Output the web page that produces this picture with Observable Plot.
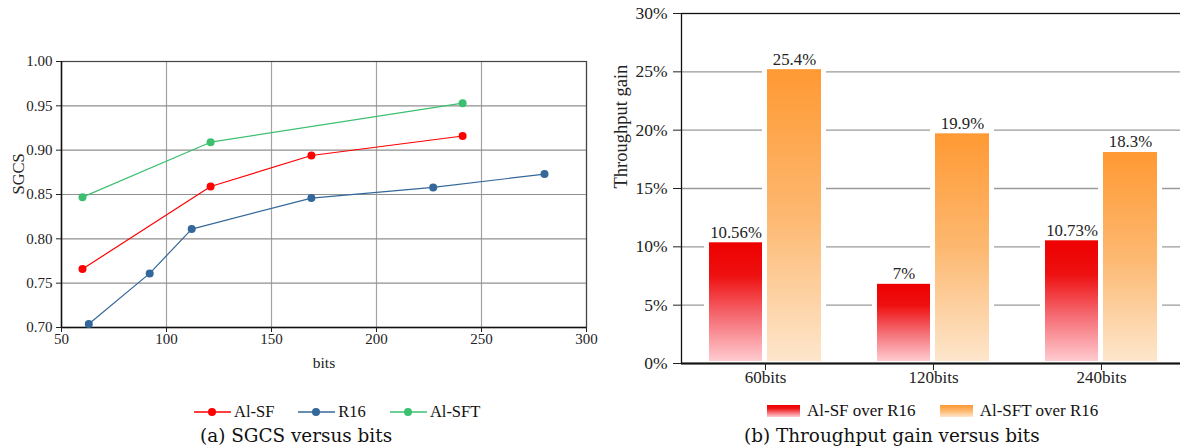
<!DOCTYPE html>
<html><head><meta charset="utf-8">
<script src="https://cdn.jsdelivr.net/npm/d3@7"></script>
<script src="https://cdn.jsdelivr.net/npm/@observablehq/plot@0.6"></script>
<style>
body{margin:0;background:#fff;overflow:hidden;}
#root{position:relative;width:1180px;height:448px;overflow:hidden;font-family:"Liberation Serif","Times New Roman",Times,serif;color:#111;}
#root svg text{font-family:"Liberation Serif","Times New Roman",Times,serif;}
.abs{position:absolute;}
.leg{display:flex;align-items:center;white-space:nowrap;}
.cap{font-family:"DejaVu Serif",serif;font-size:18.4px;white-space:nowrap;}
</style></head><body>
<svg width="0" height="0" style="position:absolute">
<defs>
<linearGradient id="gRed" x1="0" y1="0" x2="0" y2="1">
<stop offset="0" stop-color="#ee0000"/><stop offset="0.28" stop-color="#ee1010"/><stop offset="0.62" stop-color="#f56a72"/><stop offset="1" stop-color="#ffcbd0"/>
</linearGradient>
<linearGradient id="gOrange" x1="0" y1="0" x2="0" y2="1">
<stop offset="0" stop-color="#ff9933"/><stop offset="0.5" stop-color="#fdb870"/><stop offset="1" stop-color="#fde6cc"/>
</linearGradient>
</defs></svg>
<div id="root"></div>
<script>
// ---- (a) SGCS versus bits ----
const seriesNames = ["Al-SF", "R16", "Al-SFT"];
const seriesColors = ["#ff0000", "#34679a", "#3cc070"];
const alSfBits = [60, 121, 169, 241];
const alSfSgcs = [0.766, 0.859, 0.894, 0.916];
const r16Bits = [63, 92, 112, 169, 227, 280];
const r16Sgcs = [0.704, 0.761, 0.811, 0.846, 0.858, 0.873];
const alSftBits = [60, 121, 241];
const alSftSgcs = [0.847, 0.909, 0.953];
const xTicksA = [50, 100, 150, 200, 250, 300];
const yTicksA = [0.70, 0.75, 0.80, 0.85, 0.90, 0.95, 1.00];
const captionA = "(a) SGCS versus bits";

// ---- (b) Throughput gain versus bits ----
const groups = ["60bits", "120bits", "240bits"];
const barSeries = ["Al-SF over R16", "Al-SFT over R16"];
const barFills = ["url(#gRed)", "url(#gOrange)"];
const gainAlSf = [10.56, 7, 10.73];
const gainAlSft = [25.4, 19.9, 18.3];
const gainLabelsAlSf = ["10.56%", "7%", "10.73%"];
const gainLabelsAlSft = ["25.4%", "19.9%", "18.3%"];
const yTicksB = [0, 5, 10, 15, 20, 25, 30];
const captionB = "(b) Throughput gain versus bits";

const FONT = '"Liberation Serif", "Times New Roman", Times, serif';
const root = document.getElementById("root");

const lineData = [];
[[alSfBits, alSfSgcs], [r16Bits, r16Sgcs], [alSftBits, alSftSgcs]].forEach(([b, s], i) =>
  b.forEach((x, j) => lineData.push({series: seriesNames[i], bits: x, sgcs: s[j]})));

const chartA = Plot.plot({
  width: 600, height: 390,
  marginLeft: 61, marginRight: 14, marginTop: 61, marginBottom: 63,
  style: {fontFamily: FONT, fontSize: "15px", color: "#222", background: "transparent"},
  x: {domain: [50, 300]},
  y: {domain: [0.70, 1.00]},
  color: {domain: seriesNames, range: seriesColors},
  marks: [
    Plot.gridX(xTicksA, {stroke: "#a3a3a3", strokeOpacity: 1, strokeWidth: 1.2}),
    Plot.gridY(yTicksA, {stroke: "#8f8f8f", strokeOpacity: 1, strokeWidth: 1.1}),
    Plot.frame({stroke: "#444", strokeWidth: 1.2}),
    Plot.ruleX([50], {stroke: "#111", strokeWidth: 1.4}),
    Plot.ruleY([0.70], {stroke: "#111", strokeWidth: 1.4}),
    Plot.axisX(xTicksA, {tickSize: 5, tickFormat: () => "", label: null}),
    Plot.axisY(yTicksA, {tickSize: 5, tickFormat: () => "", label: null}),
    Plot.text(xTicksA, {x: d => d, text: d => String(d), frameAnchor: "bottom", dy: 16, fontSize: 15, fill: "#222"}),
    Plot.text(yTicksA, {y: d => d, text: d3.format(".2f"), frameAnchor: "left", textAnchor: "end", dx: -9, fontSize: 15, fill: "#222"}),
    Plot.line(lineData, {x: "bits", y: "sgcs", z: "series", stroke: "series", strokeWidth: 1.2}),
    Plot.dot(lineData, {x: "bits", y: "sgcs", fill: "series", r: 4}),
    Plot.text(["SGCS"], {text: d => d, frameAnchor: "left", dx: -43, rotate: -90, fontSize: 16.5}),
    Plot.text(["bits"], {text: d => d, frameAnchor: "bottom", dy: 40, fontSize: 15.5})
  ]
});
chartA.classList.add("abs");
chartA.style.left = "0px"; chartA.style.top = "0px";
root.appendChild(chartA);

const barData = groups.flatMap((g, i) => [
  {group: g, series: barSeries[0], value: gainAlSf[i], label: gainLabelsAlSf[i]},
  {group: g, series: barSeries[1], value: gainAlSft[i], label: gainLabelsAlSft[i]}
]);
const sfData = barData.filter(d => d.series === barSeries[0]);
const sftData = barData.filter(d => d.series === barSeries[1]);

const chartB = Plot.plot({
  width: 590, height: 390,
  marginLeft: 81, marginRight: 5, marginTop: 13, marginBottom: 27,
  style: {fontFamily: FONT, fontSize: "17px", color: "#222", background: "transparent"},
  x: {domain: groups, paddingInner: 1/3, paddingOuter: 1/6},
  y: {domain: [0, 30]},
  marks: [
    Plot.gridY(yTicksB.slice(1, -1), {stroke: "#9a9a9a", strokeOpacity: 1, strokeWidth: 1.3}),
    Plot.barY(sfData, {x: "group", y: "value", fill: "white", insetLeft: -5, insetRight: 54, insetTop: -3}),
    Plot.barY(sftData, {x: "group", y: "value", fill: "white", insetLeft: 53, insetRight: -5, insetTop: -3}),
    Plot.barY(sfData, {x: "group", y: "value", fill: barFills[0], insetLeft: 0, insetRight: 59, insetTop: 2.5, insetBottom: 2}),
    Plot.barY(sftData, {x: "group", y: "value", fill: barFills[1], insetLeft: 58, insetRight: 0, insetTop: 2.5, insetBottom: 2}),
    Plot.text(sfData, {x: "group", y: "value", text: "label", dx: -29.5, dy: -8, fontSize: 16.8}),
    Plot.text(sftData, {x: "group", y: "value", text: "label", dx: 29, dy: -8, fontSize: 16.8}),
    Plot.frame({stroke: "#111", strokeWidth: 1.3}),
    Plot.ruleY([0], {stroke: "#111", strokeWidth: 2}),
    Plot.axisY(yTicksB, {tickSize: 8, tickFormat: () => "", label: null}),
    Plot.axisX({tickSize: 7, tickFormat: () => "", label: null}),
    Plot.text(yTicksB, {y: d => d, text: d => d + "%", frameAnchor: "left", textAnchor: "end", dx: -14, fontSize: 17.5, fill: "#222"}),
    Plot.text(groups, {x: d => d, text: d => d, frameAnchor: "bottom", dy: 19, fontSize: 17, fill: "#222"}),
    Plot.text(["Throughput gain"], {text: d => d, frameAnchor: "left", dx: -60, rotate: -90, fontSize: 18.5})
  ]
});
chartB.classList.add("abs");
chartB.style.left = "600px"; chartB.style.top = "0px";
root.appendChild(chartB);

// ---- legends ----
const legA = document.createElement("div");
legA.className = "abs leg";
legA.style.left = "194px"; legA.style.top = "402px"; legA.style.fontSize = "16.5px";
seriesNames.forEach((name, i) => {
  const item = document.createElement("div");
  item.className = "leg";
  item.style.marginRight = i < seriesNames.length - 1 ? "24px" : "0";
  item.innerHTML = `<svg width="37" height="12" style="margin-right:3px"><line x1="0" x2="37" y1="6" y2="6" stroke="${seriesColors[i]}" stroke-width="1.3"/><circle cx="18" cy="6" r="4" fill="${seriesColors[i]}"/></svg><span>${name}</span>`;
  legA.appendChild(item);
});
root.appendChild(legA);

const legB = document.createElement("div");
legB.className = "abs leg";
legB.style.left = "767px"; legB.style.top = "401px"; legB.style.fontSize = "17px";
barSeries.forEach((name, i) => {
  const item = document.createElement("div");
  item.className = "leg";
  item.style.marginRight = i < barSeries.length - 1 ? "24px" : "0";
  item.innerHTML = `<svg width="33" height="12" style="margin-right:7px"><rect x="0" y="0" width="33" height="12" fill="${barFills[i]}"/></svg><span>${name}</span>`;
  legB.appendChild(item);
});
root.appendChild(legB);

const capA = document.createElement("div");
capA.className = "abs cap"; capA.style.left = "200px"; capA.style.top = "425px";
capA.textContent = captionA; root.appendChild(capA);
const capB = document.createElement("div");
capB.className = "abs cap"; capB.style.left = "744px"; capB.style.top = "425px";
capB.textContent = captionB; root.appendChild(capB);
</script>
</body></html>
